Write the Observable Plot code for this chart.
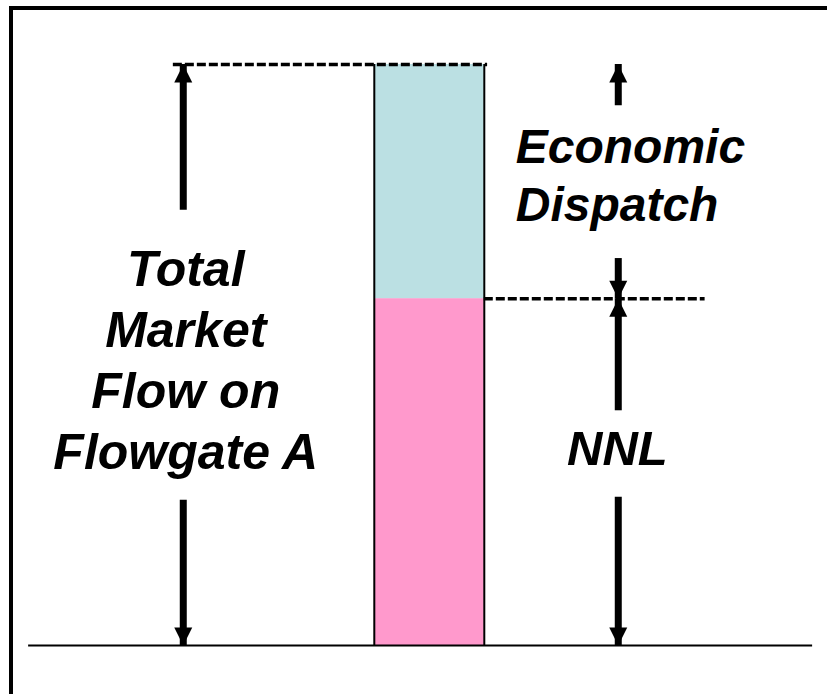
<!DOCTYPE html>
<html>
<head>
<meta charset="utf-8">
<script src="https://cdn.jsdelivr.net/npm/d3@7"></script>
<script src="https://cdn.jsdelivr.net/npm/@observablehq/plot@0.6"></script>
<style>
  html, body { margin: 0; padding: 0; background: #fff; }
  #wrap { position: relative; width: 827px; height: 694px; overflow: hidden; }
  #frame { position: absolute; left: 9px; top: 6px; width: 830px; height: 700px;
           border-top: 4px solid #000; border-left: 4px solid #000; pointer-events: none; }
</style>
</head>
<body>
<div id="wrap"><div id="frame"></div></div>
<script>
// ---- data ----
const categories = ["NNL", "Economic Dispatch"];
const values = [59.7, 40.3];              // share of total market flow
const colors = ["#FF99CC", "#BBE0E3"];
const barX = [45.2, 58.5];                // bar horizontal extent (layout units 0-100)

const leftLabel = "Total\nMarket\nFlow on\nFlowgate A";
const edLabel = "Economic\nDispatch";
const nnlLabel = "NNL";

// arrow segments: x position, tail value, tip value
const arrowX = [22.1, 22.1, 74.7, 74.7, 74.7, 74.7];
const arrowTail = [74.9, 25.0, 92.9, 66.6, 40.4, 25.5];
const arrowTip = [100, 0, 100, 59.7, 59.7, 0];

// dashed guide lines: value, x start, x end
const guideY = [100, 59.7];
const guideX1 = [20.9, 58.5];
const guideX2 = [58.9, 85.2];

// ---- build tables ----
let acc = 0;
const segs = categories.map((c, i) => {
  const s = {cat: c, y1: acc, y2: acc + values[i], x1: barX[0], x2: barX[1], fill: colors[i]};
  acc += values[i];
  return s;
});
const total = acc;
const arrows = arrowX.map((x, i) => ({x, tail: arrowTail[i], tip: arrowTip[i],
  rotate: arrowTip[i] > arrowTail[i] ? 0 : 180}));
const guides = guideY.map((y, i) => ({y, x1: guideX1[i], x2: guideX2[i]}));

const head = {
  draw(ctx) {
    ctx.moveTo(0, 0);
    ctx.lineTo(-9, 18);
    ctx.lineTo(9, 18);
    ctx.closePath();
  }
};

const font = {fontFamily: "'Liberation Sans', Arial, sans-serif", fontWeight: "bold", fontStyle: "italic", fill: "#000"};

const chart = Plot.plot({
  width: 827,
  height: 694,
  margin: 0,
  x: {domain: [0, 100], range: [0, 827], axis: null},
  y: {domain: [0, total], range: [645, 64], axis: null},
  marks: [
    Plot.rectY(segs, {x1: "x1", x2: "x2", y1: "y1", y2: "y2", fill: "fill"}),
    Plot.ruleX(barX, {x: d => d, y1: 0, y2: total, stroke: "#000", strokeWidth: 2}),
    Plot.ruleY([0], {x1: 3.4, x2: 98.2, stroke: "#000", strokeWidth: 2}),
    Plot.ruleY(guides, {y: "y", x1: "x1", x2: "x2", stroke: "#000", strokeWidth: 3.5, strokeDasharray: "9,3"}),
    Plot.ruleX(arrows, {x: "x", y1: "tail", y2: "tip", stroke: "#000", strokeWidth: 7}),
    Plot.dot(arrows, {x: "x", y: "tip", rotate: "rotate", symbol: head, fill: "#000", stroke: "none", r: 8}),
    Plot.text([leftLabel], {x: 22.4, y: 49.5, text: d => d, fontSize: 50, lineHeight: 1.22, textAnchor: "middle", ...font}),
    Plot.text([edLabel], {x: 62.3, y: 81.2, text: d => d, fontSize: 48, lineHeight: 1.19, textAnchor: "start", ...font}),
    Plot.text([nnlLabel], {x: 74.6, y: 33.7, text: d => d, fontSize: 49, textAnchor: "middle", ...font})
  ]
});
document.getElementById("wrap").prepend(chart);
</script>
</body>
</html>
